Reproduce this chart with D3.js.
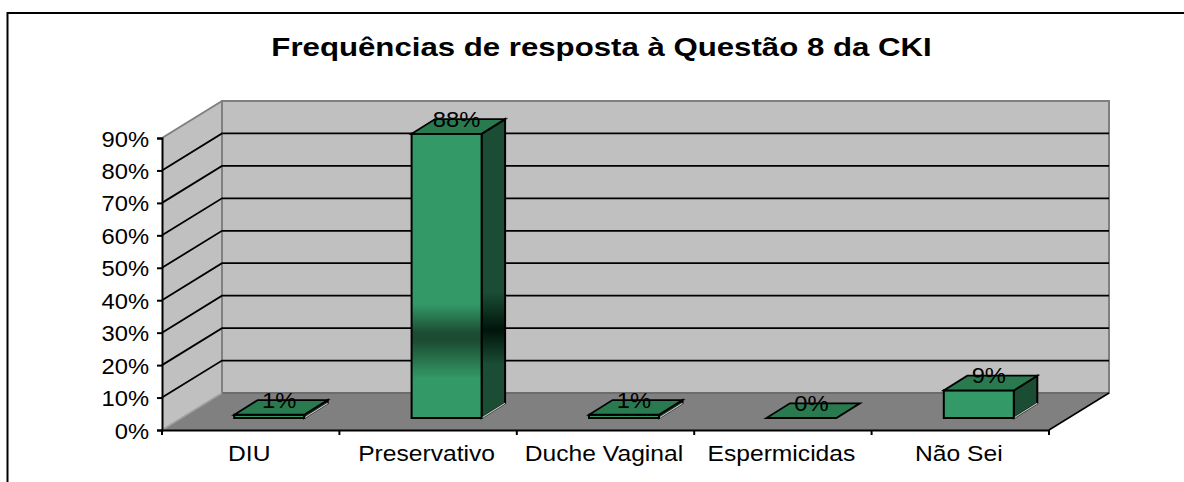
<!DOCTYPE html>
<html>
<head>
<meta charset="utf-8">
<script src="https://cdn.jsdelivr.net/npm/d3@7"></script>
<style>
  body { margin: 0; background: #fff; }
  svg { display: block; }
  text { font-family: "Liberation Sans", Arial, sans-serif; fill: #000; }
</style>
</head>
<body>
<svg id="chart"></svg>
<script>
const categories = ["DIU", "Preservativo", "Duche Vaginal", "Espermicidas", "Não Sei"];
const values = [1, 87.6, 1, 0, 8.5];
const valueLabels = ["1%", "88%", "1%", "0%", "9%"];
const yTicks = [0, 10, 20, 30, 40, 50, 60, 70, 80, 90];
const titleText = "Frequências de resposta à Questão 8 da CKI";

const width = 1184, height = 482;
const plotLeft = 162, plotRight = 1049, plotBottom = 430, plotTop = 138;
const depthX = 60, depthY = -37;
const textStretch = 1.12;

const svg = d3.select("#chart").attr("width", width).attr("height", height);

const x = d3.scaleBand().domain(categories).range([plotLeft, plotRight]);
const y = d3.scaleLinear().domain([0, 90]).range([plotBottom, plotTop]);

const line = d3.line();
const poly = (pts) => line(pts) + "Z";

// outer frame, only left and top are visible in the picture
svg.append("path")
  .attr("d", `M7.5,${height}V13H${width}`)
  .attr("fill", "none")
  .attr("stroke", "#000")
  .attr("stroke-width", 2);

svg.append("text")
  .attr("transform", "translate(601.5,56) scale(1.2,1)")
  .attr("text-anchor", "middle")
  .style("font-size", "26px")
  .style("font-weight", "bold")
  .text(titleText);

// walls and floor
const backY = (v) => y(v) + depthY;
svg.append("path")
  .attr("d", poly([[plotLeft, y(0)], [plotLeft, y(90)], [plotLeft + depthX, backY(90)], [plotLeft + depthX, backY(0)]]))
  .attr("fill", "#c0c0c0");
svg.append("rect")
  .attr("x", plotLeft + depthX)
  .attr("y", backY(90))
  .attr("width", plotRight - plotLeft)
  .attr("height", y(0) - y(90))
  .attr("fill", "#c0c0c0")
  .attr("stroke", "#808080")
  .attr("stroke-width", 2);
svg.append("path")
  .attr("d", poly([[plotLeft, y(0)], [plotRight, y(0)], [plotRight + depthX, backY(0)], [plotLeft + depthX, backY(0)]]))
  .attr("fill", "#808080");
svg.append("path")
  .attr("d", line([[plotLeft, y(90)], [plotLeft + depthX, backY(90)]]))
  .attr("stroke", "#808080")
  .attr("stroke-width", 2);
svg.append("path")
  .attr("d", line([[plotLeft, y(0)], [plotLeft + depthX, backY(0)]]))
  .attr("stroke", "#a0a0a0")
  .attr("stroke-width", 1.5);
svg.append("path")
  .attr("d", line([[plotLeft + depthX, backY(0)], [plotRight + depthX, backY(0)]]))
  .attr("stroke", "#666")
  .attr("stroke-width", 1.5);
svg.append("path")
  .attr("d", line([[plotRight, y(0)], [plotRight + depthX, backY(0)]]))
  .attr("stroke", "#000")
  .attr("stroke-width", 1.5);

// grid lines
const gridValues = yTicks.filter((d) => d > 0 && d < 90);
svg.append("g").selectAll("path")
  .data(gridValues)
  .join("path")
  .attr("d", (d) => line([[plotLeft, y(d)], [plotLeft + depthX, backY(d)], [plotRight + depthX, backY(d)]]))
  .attr("fill", "none")
  .attr("stroke", "#000")
  .attr("stroke-width", 1.8);

// gradients, the dark band only hits the tall bar
const defs = svg.append("defs");
function addGradient(id, stops) {
  const g = defs.append("linearGradient")
    .attr("id", id)
    .attr("gradientUnits", "userSpaceOnUse")
    .attr("x1", 0).attr("x2", 0)
    .attr("y1", 134).attr("y2", 418);
  stops.forEach((s) => g.append("stop").attr("offset", s[0]).attr("stop-color", s[1]));
}
addGradient("frontFill", [[0, "#339966"], [0.6, "#339966"], [0.7, "#1c4d33"], [0.73, "#1c4d33"], [0.86, "#339966"], [1, "#339966"]]);
addGradient("sideFill", [[0, "#1a4d33"], [0.56, "#1a4d33"], [0.69, "#00140c"], [0.81, "#1a4d33"], [1, "#1a4d33"]]);

// bars
const barWidth = 70, barDepthX = 23.5, barDepthY = -14.7;
const shiftX = 18.5, shiftY = -12;
const bars = svg.append("g").selectAll("g")
  .data(categories.map((c, i) => ({ c, v: values[i], label: valueLabels[i] })))
  .join("g");

const fx = (d) => x(d.c) + x.bandwidth() / 2 + shiftX - barWidth / 2;
const baseY = y(0) + shiftY;
const topY = (d) => y(d.v) + shiftY;

bars.filter((d) => d.v > 0).append("path")
  .attr("d", (d) => poly([
    [fx(d) + barWidth, baseY],
    [fx(d) + barWidth, topY(d)],
    [fx(d) + barWidth + barDepthX, topY(d) + barDepthY],
    [fx(d) + barWidth + barDepthX, baseY + barDepthY]]))
  .attr("fill", "url(#sideFill)")
  .attr("stroke", "#000")
  .attr("stroke-width", 2);
bars.filter((d) => d.v > 0).append("path")
  .attr("d", (d) => line([[fx(d) + barWidth, baseY], [fx(d) + barWidth + barDepthX, baseY + barDepthY]]))
  .attr("stroke", "#c8c8c8")
  .attr("stroke-width", 1.2);
bars.filter((d) => d.v > 0).append("rect")
  .attr("x", fx)
  .attr("y", topY)
  .attr("width", barWidth)
  .attr("height", (d) => baseY - topY(d))
  .attr("fill", "url(#frontFill)")
  .attr("stroke", "#000")
  .attr("stroke-width", 2);
bars.append("path")
  .attr("d", (d) => poly([
    [fx(d), topY(d)],
    [fx(d) + barWidth, topY(d)],
    [fx(d) + barWidth + barDepthX, topY(d) + barDepthY],
    [fx(d) + barDepthX, topY(d) + barDepthY]]))
  .attr("fill", "#2a7a50")
  .attr("stroke", "#000")
  .attr("stroke-width", 1.8);

// axes
const yAxis = svg.append("g")
  .attr("transform", `translate(${plotLeft},0)`)
  .call(d3.axisLeft(y).tickValues(yTicks).tickSize(5).tickFormat((d) => d + "%"));
const xAxis = svg.append("g")
  .attr("transform", `translate(0,${plotBottom})`)
  .call(d3.axisBottom(x).tickSize(0).tickFormat((d) => d));

[yAxis, xAxis].forEach((a) => {
  a.select(".domain").attr("stroke", "#000").attr("stroke-width", 2);
  a.selectAll(".tick line").attr("stroke", "#000").attr("stroke-width", 2);
});

yAxis.selectAll(".tick text")
  .attr("x", 0).attr("dy", null)
  .attr("text-anchor", "end")
  .attr("transform", "translate(-13,8) scale(1.08,1)")
  .style("font-size", "22px");
xAxis.selectAll(".tick text")
  .attr("y", 0).attr("dy", null)
  .attr("text-anchor", "middle")
  .attr("transform", `translate(-1.5,31) scale(${textStretch},1)`)
  .style("font-size", "22px");

// category separators sit between the bands
xAxis.append("g").selectAll("line")
  .data(d3.range(categories.length + 1))
  .join("line")
  .attr("x1", (i) => plotLeft + i * x.step())
  .attr("x2", (i) => plotLeft + i * x.step())
  .attr("y1", 0)
  .attr("y2", 5)
  .attr("stroke", "#000")
  .attr("stroke-width", 2);

// value labels drawn last, they overlap the bar tops
bars.append("text")
  .attr("transform", (d) => `translate(${fx(d) + barWidth / 2 + 10},${topY(d) - 7}) scale(1.08,1)`)
  .attr("text-anchor", "middle")
  .style("font-size", "22px")
  .text((d) => d.label);
</script>
</body>
</html>
